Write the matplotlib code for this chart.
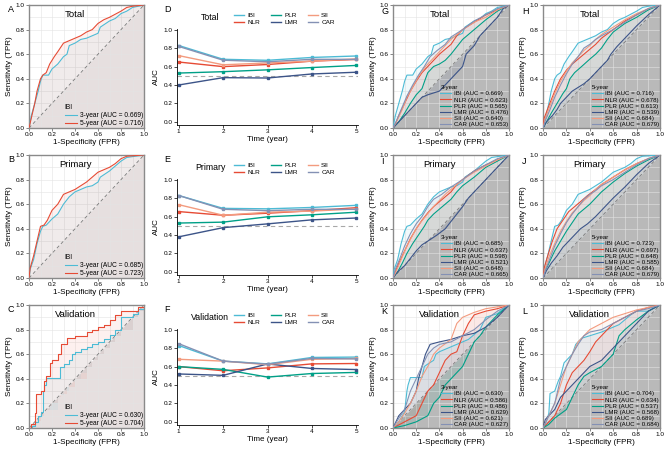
import matplotlib
matplotlib.use("Agg")
import matplotlib.pyplot as plt
from matplotlib.lines import Line2D

plt.rcParams['font.family'] = ['Liberation Sans', 'DejaVu Sans']

# ---------------- dados ----------------
marcadores = ['IBI', 'NLR', 'PLR', 'LMR', 'SII', 'CAR']
cores = ['#4DBBD5', '#E64B35', '#00A087', '#3C5488', '#F39B7F', '#8491B4']
anos = [1, 2, 3, 4, 5]

# AUC ao longo do tempo (paineis D, E, F)
auc_total = {
    'IBI': [0.83, 0.68, 0.669, 0.70, 0.716],
    'NLR': [0.65, 0.60, 0.623, 0.66, 0.678],
    'PLR': [0.53, 0.545, 0.565, 0.59, 0.613],
    'LMR': [0.40, 0.48, 0.476, 0.52, 0.539],
    'SII': [0.72, 0.62, 0.640, 0.66, 0.684],
    'CAR': [0.82, 0.67, 0.653, 0.68, 0.679],
}
auc_primary = {
    'IBI': [0.83, 0.69, 0.685, 0.70, 0.723],
    'NLR': [0.655, 0.615, 0.637, 0.665, 0.697],
    'PLR': [0.53, 0.54, 0.598, 0.62, 0.648],
    'LMR': [0.38, 0.48, 0.521, 0.565, 0.585],
    'SII': [0.73, 0.615, 0.648, 0.66, 0.684],
    'CAR': [0.83, 0.68, 0.665, 0.68, 0.679],
}
auc_validation = {
    'IBI': [0.83, 0.66, 0.630, 0.70, 0.704],
    'NLR': [0.60, 0.555, 0.586, 0.63, 0.634],
    'PLR': [0.60, 0.57, 0.486, 0.525, 0.537],
    'LMR': [0.52, 0.505, 0.629, 0.58, 0.568],
    'SII': [0.68, 0.66, 0.621, 0.68, 0.689],
    'CAR': [0.85, 0.66, 0.627, 0.69, 0.684],
}

# curvas ROC (fpr, tpr)
ibi_total_3y = [(0, 0), (0.02, 0.1), (0.05, 0.2), (0.08, 0.3), (0.1, 0.38), (0.12, 0.43), (0.17, 0.43), (0.2, 0.48),
                (0.25, 0.52), (0.3, 0.58), (0.33, 0.6), (0.35, 0.67), (0.4, 0.69), (0.45, 0.72), (0.5, 0.73),
                (0.55, 0.75), (0.6, 0.77), (0.62, 0.82), (0.7, 0.87), (0.75, 0.89), (0.8, 0.93), (0.85, 0.95),
                (0.9, 0.98), (0.95, 0.99), (1, 1)]
ibi_total_5y = [(0, 0), (0.02, 0.08), (0.05, 0.2), (0.07, 0.3), (0.1, 0.4), (0.12, 0.43), (0.15, 0.45), (0.18, 0.52),
                (0.22, 0.58), (0.25, 0.62), (0.3, 0.69), (0.35, 0.71), (0.4, 0.73), (0.45, 0.75), (0.5, 0.78),
                (0.55, 0.8), (0.6, 0.85), (0.65, 0.88), (0.7, 0.9), (0.8, 0.95), (0.85, 0.98), (0.9, 0.99), (1, 1)]
ibi_primary_3y = [(0, 0), (0.01, 0.07), (0.04, 0.15), (0.07, 0.28), (0.1, 0.38), (0.12, 0.42), (0.15, 0.43),
                  (0.2, 0.48), (0.25, 0.52), (0.3, 0.6), (0.35, 0.66), (0.4, 0.7), (0.45, 0.72), (0.5, 0.74),
                  (0.55, 0.75), (0.6, 0.78), (0.62, 0.82), (0.7, 0.87), (0.75, 0.91), (0.8, 0.95), (0.85, 0.98),
                  (1, 1)]
ibi_primary_5y = [(0, 0), (0.01, 0.08), (0.04, 0.18), (0.07, 0.3), (0.1, 0.42), (0.13, 0.43), (0.16, 0.47),
                  (0.2, 0.55), (0.25, 0.6), (0.3, 0.68), (0.35, 0.7), (0.4, 0.72), (0.45, 0.75), (0.5, 0.78),
                  (0.55, 0.82), (0.6, 0.86), (0.65, 0.88), (0.7, 0.9), (0.75, 0.93), (0.8, 0.97), (0.85, 0.99),
                  (1, 1)]
ibi_valid_3y = [(0, 0), (0.03, 0.02), (0.05, 0.05), (0.08, 0.1), (0.1, 0.13), (0.12, 0.3), (0.13, 0.35),
                (0.15, 0.41), (0.25, 0.41), (0.27, 0.5), (0.3, 0.52), (0.35, 0.55), (0.37, 0.6), (0.4, 0.62),
                (0.45, 0.64), (0.5, 0.66), (0.55, 0.68), (0.6, 0.7), (0.65, 0.72), (0.7, 0.76), (0.75, 0.8),
                (0.8, 0.9), (0.9, 0.93), (0.95, 0.97), (1, 1)]
ibi_valid_5y = [(0, 0), (0.02, 0.03), (0.05, 0.12), (0.06, 0.28), (0.1, 0.3), (0.13, 0.38), (0.15, 0.42),
                (0.18, 0.53), (0.2, 0.55), (0.25, 0.6), (0.28, 0.68), (0.33, 0.73), (0.4, 0.75), (0.5, 0.78),
                (0.55, 0.8), (0.6, 0.82), (0.65, 0.84), (0.7, 0.88), (0.75, 0.92), (0.8, 0.95), (0.9, 0.95),
                (0.95, 0.98), (1, 1)]

# G - Total 3 anos
nlr_total_3y = [(0, 0), (0.02, 0.03), (0.05, 0.1), (0.1, 0.2), (0.15, 0.3), (0.2, 0.38), (0.25, 0.45), (0.3, 0.5),
                (0.35, 0.55), (0.4, 0.6), (0.45, 0.64), (0.5, 0.68), (0.55, 0.75), (0.6, 0.8), (0.7, 0.86),
                (0.8, 0.92), (0.9, 0.96), (1, 1)]
plr_total_3y = [(0, 0), (0.05, 0.05), (0.1, 0.12), (0.15, 0.2), (0.2, 0.27), (0.25, 0.32), (0.28, 0.4), (0.3, 0.45),
                (0.35, 0.5), (0.4, 0.52), (0.45, 0.55), (0.5, 0.6), (0.55, 0.66), (0.6, 0.72), (0.7, 0.8),
                (0.8, 0.88), (0.9, 0.95), (1, 1)]
lmr_total_3y = [(0, 0), (0.05, 0.05), (0.1, 0.1), (0.15, 0.15), (0.2, 0.2), (0.25, 0.25), (0.3, 0.27), (0.4, 0.3),
                (0.45, 0.35), (0.5, 0.4), (0.55, 0.45), (0.6, 0.5), (0.63, 0.6), (0.7, 0.67), (0.75, 0.75),
                (0.8, 0.8), (0.9, 0.9), (0.95, 0.97), (1, 1)]
sii_total_3y = [(0, 0), (0.03, 0.05), (0.08, 0.15), (0.12, 0.25), (0.18, 0.35), (0.22, 0.42), (0.28, 0.5),
                (0.35, 0.57), (0.4, 0.62), (0.45, 0.67), (0.5, 0.72), (0.6, 0.8), (0.7, 0.86), (0.8, 0.9),
                (0.9, 0.96), (1, 1)]
car_total_3y = [(0, 0), (0.03, 0.06), (0.07, 0.15), (0.12, 0.26), (0.17, 0.35), (0.22, 0.43), (0.27, 0.5),
                (0.32, 0.58), (0.38, 0.63), (0.45, 0.68), (0.5, 0.74), (0.6, 0.8), (0.7, 0.87), (0.8, 0.92),
                (0.9, 0.97), (1, 1)]
# H - Total 5 anos
nlr_total_5y = [(0, 0), (0.01, 0.08), (0.05, 0.18), (0.1, 0.3), (0.15, 0.4), (0.2, 0.47), (0.25, 0.52), (0.3, 0.56),
                (0.35, 0.6), (0.4, 0.64), (0.45, 0.68), (0.5, 0.73), (0.6, 0.8), (0.7, 0.87), (0.8, 0.92),
                (0.9, 0.97), (1, 1)]
plr_total_5y = [(0, 0), (0.03, 0.05), (0.07, 0.12), (0.12, 0.2), (0.17, 0.28), (0.2, 0.32), (0.23, 0.4),
                (0.27, 0.45), (0.33, 0.5), (0.4, 0.56), (0.45, 0.6), (0.5, 0.65), (0.55, 0.72), (0.6, 0.78),
                (0.7, 0.85), (0.8, 0.9), (0.9, 0.96), (1, 1)]
lmr_total_5y = [(0, 0), (0.03, 0.05), (0.08, 0.1), (0.12, 0.15), (0.15, 0.2), (0.2, 0.25), (0.25, 0.3), (0.3, 0.33),
                (0.35, 0.36), (0.4, 0.4), (0.45, 0.45), (0.5, 0.5), (0.55, 0.55), (0.58, 0.6), (0.63, 0.66),
                (0.7, 0.73), (0.8, 0.83), (0.9, 0.92), (1, 1)]
sii_total_5y = [(0, 0), (0.02, 0.08), (0.06, 0.18), (0.1, 0.28), (0.15, 0.38), (0.2, 0.46), (0.25, 0.53),
                (0.3, 0.58), (0.35, 0.63), (0.4, 0.67), (0.45, 0.72), (0.5, 0.76), (0.6, 0.82), (0.7, 0.88),
                (0.8, 0.93), (0.9, 0.97), (1, 1)]
car_total_5y = [(0, 0), (0.02, 0.06), (0.06, 0.15), (0.1, 0.25), (0.15, 0.35), (0.2, 0.44), (0.25, 0.52),
                (0.3, 0.58), (0.35, 0.65), (0.4, 0.68), (0.45, 0.72), (0.5, 0.75), (0.6, 0.8), (0.7, 0.86),
                (0.8, 0.92), (0.9, 0.97), (1, 1)]
# I - Primary 3 anos
nlr_primary_3y = [(0, 0), (0.02, 0.05), (0.05, 0.12), (0.1, 0.22), (0.15, 0.32), (0.2, 0.4), (0.25, 0.47),
                  (0.3, 0.53), (0.35, 0.58), (0.4, 0.62), (0.45, 0.66), (0.5, 0.7), (0.55, 0.76), (0.6, 0.8),
                  (0.7, 0.87), (0.8, 0.92), (0.9, 0.96), (1, 1)]
plr_primary_3y = [(0, 0), (0.04, 0.05), (0.08, 0.12), (0.12, 0.2), (0.17, 0.28), (0.22, 0.35), (0.27, 0.42),
                  (0.3, 0.47), (0.35, 0.52), (0.4, 0.56), (0.45, 0.6), (0.5, 0.64), (0.55, 0.7), (0.6, 0.75),
                  (0.7, 0.82), (0.8, 0.9), (0.9, 0.95), (1, 1)]
lmr_primary_3y = [(0, 0), (0.04, 0.05), (0.1, 0.1), (0.15, 0.16), (0.2, 0.22), (0.25, 0.27), (0.3, 0.3),
                  (0.38, 0.35), (0.45, 0.4), (0.5, 0.46), (0.55, 0.52), (0.6, 0.58), (0.65, 0.65), (0.7, 0.7),
                  (0.8, 0.8), (0.9, 0.9), (1, 1)]
sii_primary_3y = [(0, 0), (0.03, 0.06), (0.07, 0.15), (0.12, 0.26), (0.17, 0.35), (0.22, 0.43), (0.28, 0.5),
                  (0.34, 0.57), (0.4, 0.63), (0.45, 0.68), (0.5, 0.72), (0.6, 0.8), (0.7, 0.86), (0.8, 0.91),
                  (0.9, 0.96), (1, 1)]
car_primary_3y = [(0, 0), (0.02, 0.07), (0.06, 0.16), (0.1, 0.26), (0.15, 0.36), (0.2, 0.44), (0.25, 0.5),
                  (0.3, 0.58), (0.35, 0.64), (0.42, 0.68), (0.5, 0.74), (0.6, 0.8), (0.7, 0.87), (0.8, 0.92),
                  (0.9, 0.97), (1, 1)]
# J - Primary 5 anos
nlr_primary_5y = [(0, 0), (0.01, 0.08), (0.04, 0.18), (0.08, 0.3), (0.12, 0.4), (0.17, 0.47), (0.22, 0.54),
                  (0.27, 0.58), (0.32, 0.62), (0.38, 0.67), (0.45, 0.72), (0.5, 0.76), (0.6, 0.82), (0.7, 0.88),
                  (0.8, 0.93), (0.9, 0.97), (1, 1)]
plr_primary_5y = [(0, 0), (0.02, 0.06), (0.06, 0.14), (0.1, 0.22), (0.15, 0.3), (0.2, 0.38), (0.25, 0.45),
                  (0.3, 0.52), (0.35, 0.56), (0.4, 0.6), (0.45, 0.65), (0.5, 0.7), (0.6, 0.78), (0.7, 0.85),
                  (0.8, 0.91), (0.9, 0.96), (1, 1)]
lmr_primary_5y = [(0, 0), (0.03, 0.06), (0.07, 0.12), (0.12, 0.18), (0.17, 0.25), (0.22, 0.3), (0.27, 0.35),
                  (0.32, 0.4), (0.38, 0.44), (0.45, 0.5), (0.5, 0.55), (0.55, 0.6), (0.6, 0.65), (0.7, 0.74),
                  (0.8, 0.84), (0.9, 0.93), (1, 1)]
sii_primary_5y = [(0, 0), (0.02, 0.08), (0.05, 0.17), (0.1, 0.28), (0.15, 0.38), (0.2, 0.46), (0.25, 0.53),
                  (0.3, 0.58), (0.35, 0.63), (0.4, 0.67), (0.45, 0.72), (0.5, 0.76), (0.6, 0.82), (0.7, 0.88),
                  (0.8, 0.93), (0.9, 0.97), (1, 1)]
car_primary_5y = [(0, 0), (0.02, 0.06), (0.06, 0.16), (0.1, 0.26), (0.15, 0.36), (0.2, 0.45), (0.25, 0.52),
                  (0.3, 0.58), (0.35, 0.64), (0.4, 0.68), (0.45, 0.71), (0.5, 0.75), (0.6, 0.8), (0.7, 0.86),
                  (0.8, 0.92), (0.9, 0.97), (1, 1)]
# K - Validation 3 anos
nlr_valid_3y = [(0, 0), (0.1, 0.05), (0.2, 0.1), (0.25, 0.2), (0.3, 0.3), (0.35, 0.35), (0.4, 0.45), (0.45, 0.55),
                (0.5, 0.6), (0.55, 0.62), (0.6, 0.75), (0.65, 0.85), (0.7, 0.92), (0.8, 0.95), (0.9, 0.97), (1, 1)]
plr_valid_3y = [(0, 0), (0.1, 0.02), (0.2, 0.05), (0.3, 0.1), (0.35, 0.2), (0.4, 0.25), (0.45, 0.35), (0.5, 0.4),
                (0.55, 0.45), (0.6, 0.5), (0.65, 0.6), (0.7, 0.7), (0.75, 0.75), (0.8, 0.82), (0.9, 0.92), (1, 1)]
lmr_valid_3y = [(0, 0), (0.05, 0.1), (0.1, 0.15), (0.15, 0.2), (0.2, 0.3), (0.22, 0.4), (0.25, 0.5), (0.28, 0.6),
                (0.32, 0.68), (0.4, 0.7), (0.5, 0.72), (0.6, 0.75), (0.7, 0.77), (0.8, 0.82), (0.9, 0.9), (1, 1)]
sii_valid_3y = [(0, 0), (0.05, 0.05), (0.1, 0.12), (0.15, 0.2), (0.2, 0.3), (0.25, 0.42), (0.3, 0.5), (0.35, 0.6),
                (0.4, 0.65), (0.5, 0.72), (0.55, 0.85), (0.6, 0.9), (0.7, 0.94), (0.8, 0.97), (1, 1)]
car_valid_3y = [(0, 0), (0.05, 0.08), (0.1, 0.15), (0.15, 0.3), (0.2, 0.4), (0.25, 0.5), (0.3, 0.6), (0.35, 0.65),
                (0.4, 0.68), (0.5, 0.7), (0.6, 0.75), (0.7, 0.8), (0.8, 0.88), (0.9, 0.95), (1, 1)]
# L - Validation 5 anos
nlr_valid_5y = [(0, 0), (0.05, 0.05), (0.1, 0.1), (0.15, 0.2), (0.2, 0.35), (0.25, 0.45), (0.3, 0.5), (0.35, 0.55),
                (0.4, 0.62), (0.45, 0.7), (0.5, 0.75), (0.55, 0.8), (0.6, 0.85), (0.7, 0.9), (0.8, 0.95),
                (0.9, 0.98), (1, 1)]
plr_valid_5y = [(0, 0), (0.05, 0.03), (0.1, 0.08), (0.2, 0.15), (0.25, 0.25), (0.3, 0.35), (0.35, 0.42),
                (0.4, 0.45), (0.5, 0.5), (0.55, 0.55), (0.6, 0.6), (0.65, 0.75), (0.7, 0.8), (0.8, 0.88),
                (0.9, 0.95), (1, 1)]
lmr_valid_5y = [(0, 0), (0.02, 0.07), (0.05, 0.1), (0.1, 0.15), (0.15, 0.25), (0.2, 0.3), (0.3, 0.4), (0.4, 0.5),
                (0.5, 0.55), (0.55, 0.6), (0.6, 0.65), (0.7, 0.75), (0.8, 0.85), (0.9, 0.95), (1, 1)]
sii_valid_5y = [(0, 0), (0.05, 0.1), (0.1, 0.2), (0.15, 0.35), (0.2, 0.5), (0.25, 0.6), (0.3, 0.7), (0.35, 0.75),
                (0.4, 0.8), (0.5, 0.85), (0.6, 0.9), (0.7, 0.93), (0.8, 0.96), (0.9, 0.98), (1, 1)]
car_valid_5y = [(0, 0), (0.05, 0.1), (0.1, 0.2), (0.15, 0.4), (0.2, 0.5), (0.25, 0.6), (0.3, 0.68), (0.35, 0.75),
                (0.4, 0.78), (0.5, 0.8), (0.6, 0.85), (0.7, 0.9), (0.8, 0.95), (0.9, 0.97), (1, 1)]

# valores AUC da legenda
auc_g = ['0.669', '0.623', '0.565', '0.476', '0.640', '0.653']
auc_h = ['0.716', '0.678', '0.613', '0.539', '0.684', '0.679']
auc_i = ['0.685', '0.637', '0.598', '0.521', '0.648', '0.665']
auc_j = ['0.723', '0.697', '0.648', '0.585', '0.684', '0.679']
auc_k = ['0.630', '0.586', '0.486', '0.629', '0.621', '0.627']
auc_l = ['0.704', '0.634', '0.537', '0.568', '0.689', '0.684']

# ---------------- figura ----------------
W, H = 669, 453
fig = plt.figure(figsize=(W / 100, H / 100), dpi=100)


def caixa(l, t, r, b):
    return [l / W, 1 - b / H, (r - l) / W, (b - t) / H]


def letra(x, y, s):
    fig.text(x / W, 1 - y / H, s, fontsize=6.5, ha='left', va='center')


def painel_roc(pos, curvas, cols, labels, titulo, leg_titulo, degraus, cinza, leg_fs):
    ax = fig.add_axes(caixa(*pos))
    ax.set_xlim(0, 1)
    ax.set_ylim(0, 1)
    ax.fill_between([0, 1], [0, 0], [0, 1], color=cinza, lw=0, zorder=0)
    for v in [0.1 * i for i in range(1, 10)]:
        ax.axvline(v, color='#e4e4e4', lw=0.5, zorder=0.3, alpha=0.8)
        ax.axhline(v, color='#e4e4e4', lw=0.5, zorder=0.3, alpha=0.8)
    ax.plot([0, 1], [0, 1], color='#7a7a7a', lw=0.6, ls=(0, (4, 3)), zorder=2)
    for pts, c, lab in zip(curvas, cols, labels):
        x = [p[0] for p in pts]
        y = [p[1] for p in pts]
        ds = 'steps-post' if degraus else 'default'
        ax.fill_between(x, y, x, color=c, alpha=0.08, lw=0, zorder=1,
                        step='post' if degraus else None)
        ax.plot(x, y, color=c, lw=0.8, label=lab, drawstyle=ds, zorder=3)
    for s in ax.spines.values():
        s.set_color('#8a8a8a')
        s.set_linewidth(1.0)
    ax.set_xticks([0, 0.2, 0.4, 0.6, 0.8, 1.0])
    ax.set_yticks([0, 0.2, 0.4, 0.6, 0.8, 1.0])
    ax.set_xticklabels(['0.0', '0.2', '0.4', '0.6', '0.8', '1.0'])
    ax.set_yticklabels(['0.0', '0.2', '0.4', '0.6', '0.8', '1.0'])
    ax.tick_params(labelsize=4.6, length=2, width=0.5, pad=1, color='#555555')
    ax.set_xlabel('1-Specificity (FPR)', fontsize=5.8, labelpad=1)
    ax.set_ylabel('Sensitivity (TPR)', fontsize=5.8, labelpad=2)
    ax.text(0.4, 0.92, titulo, transform=ax.transAxes, fontsize=6.8, ha='center', va='center')
    leg = ax.legend(loc='lower right', bbox_to_anchor=(1.03, -0.03), fontsize=leg_fs, title=leg_titulo,
                    title_fontsize=leg_fs, frameon=False, handlelength=1.8, handletextpad=0.4,
                    labelspacing=0.15, borderpad=0.2)
    leg._legend_box.align = 'left'
    return ax


def painel_auc(pos, dados, titulo):
    ax = fig.add_axes(caixa(*pos))
    ax.axhline(0.5, color='#a8a8a8', lw=0.8, ls=(0, (4, 3)), zorder=1)
    for m, c in zip(marcadores, cores):
        ax.plot(anos, dados[m], color=c, lw=1.0, marker='s', ms=1.6, zorder=2)
    ax.set_xlim(0.96, 5.04)
    ax.set_ylim(-0.036, 1.01)
    ax.spines['top'].set_visible(False)
    ax.spines['right'].set_visible(False)
    ax.spines['left'].set_linewidth(0.6)
    ax.spines['bottom'].set_linewidth(0.6)
    ax.set_xticks(anos)
    ax.set_yticks([0, 0.2, 0.4, 0.6, 0.8, 1.0])
    ax.set_yticklabels(['0.0', '0.2', '0.4', '0.6', '0.8', '1.0'])
    ax.tick_params(labelsize=4.6, length=2, width=0.5, pad=1)
    ax.set_xlabel('Time (year)', fontsize=5.8, labelpad=1)
    ax.set_ylabel('AUC', fontsize=5.8, labelpad=3)
    t = pos[1]
    fig.text(210 / W, 1 - (t - 11) / H, titulo, fontsize=6.3, ha='center', va='center')
    handles = [Line2D([], [], color=c, lw=1.0) for c in cores]
    ax.legend(handles, marcadores, ncol=3, loc='center left', bbox_to_anchor=(231 / W, 1 - (t - 10) / H),
              bbox_transform=fig.transFigure, fontsize=4.6, frameon=False, handlelength=1.6,
              handletextpad=0.5, columnspacing=1.6, labelspacing=0.2, borderpad=0)
    return ax


# coluna 1 (A, B, C) - IBI 3 e 5 anos
lab_a = ['3-year (AUC = 0.669)', '5-year (AUC = 0.716)']
lab_b = ['3-year (AUC = 0.685)', '5-year (AUC = 0.723)']
lab_c = ['3-year (AUC = 0.630)', '5-year (AUC = 0.704)']
rosa = '#e6dfdf'
painel_roc((29, 5, 144, 128), [ibi_total_3y, ibi_total_5y], [cores[0], cores[1]], lab_a, 'Total', 'IBI', False, rosa, 4.8)
painel_roc((29, 155, 144, 278), [ibi_primary_3y, ibi_primary_5y], [cores[0], cores[1]], lab_b, 'Primary', 'IBI', False, rosa, 4.8)
painel_roc((29, 305, 144, 428), [ibi_valid_3y, ibi_valid_5y], [cores[0], cores[1]], lab_c, 'Validation', 'IBI', True, rosa, 4.8)

# coluna 2 (D, E, F)
painel_auc((177, 29, 358, 125), auc_total, 'Total')
painel_auc((177, 179, 358, 275), auc_primary, 'Primary')
painel_auc((177, 329, 358, 425), auc_validation, 'Validation')


def rotulos(aucs):
    return [f'{m} (AUC = {a})' for m, a in zip(marcadores, aucs)]


cinza = '#b9b9b9'
painel_roc((393, 5, 509, 128), [ibi_total_3y, nlr_total_3y, plr_total_3y, lmr_total_3y, sii_total_3y, car_total_3y],
           cores, rotulos(auc_g), 'Total', '3-year', False, cinza, 4.4)
painel_roc((543, 5, 660, 128), [ibi_total_5y, nlr_total_5y, plr_total_5y, lmr_total_5y, sii_total_5y, car_total_5y],
           cores, rotulos(auc_h), 'Total', '5-year', False, cinza, 4.4)
painel_roc((393, 155, 509, 278), [ibi_primary_3y, nlr_primary_3y, plr_primary_3y, lmr_primary_3y, sii_primary_3y,
                                  car_primary_3y], cores, rotulos(auc_i), 'Primary', '3-year', False, cinza, 4.4)
painel_roc((543, 155, 660, 278), [ibi_primary_5y, nlr_primary_5y, plr_primary_5y, lmr_primary_5y, sii_primary_5y,
                                  car_primary_5y], cores, rotulos(auc_j), 'Primary', '5-year', False, cinza, 4.4)
painel_roc((393, 305, 509, 428), [ibi_valid_3y, nlr_valid_3y, plr_valid_3y, lmr_valid_3y, sii_valid_3y, car_valid_3y],
           cores, rotulos(auc_k), 'Validation', '3-year', False, cinza, 4.4)
painel_roc((543, 305, 660, 428), [ibi_valid_5y, nlr_valid_5y, plr_valid_5y, lmr_valid_5y, sii_valid_5y, car_valid_5y],
           cores, rotulos(auc_l), 'Validation', '5-year', False, cinza, 4.4)

# letras dos paineis
for s, x, y in [('A', 8, 10), ('B', 8, 160), ('C', 8, 310), ('D', 164, 10), ('E', 164, 160), ('F', 164, 310),
                ('G', 381, 12), ('H', 522, 12), ('I', 381, 162), ('J', 522, 162), ('K', 381, 312),
                ('L', 522, 312)]:
    letra(x, y, s)

fig.savefig('out.png', dpi=100)
